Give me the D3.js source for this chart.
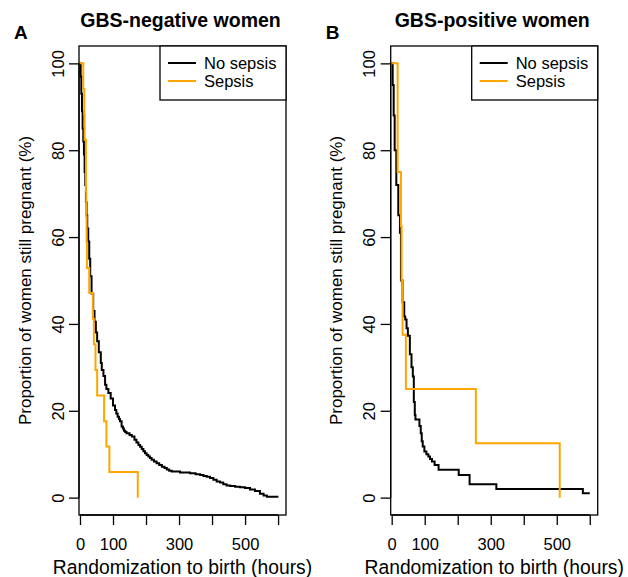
<!DOCTYPE html>
<html>
<head>
<meta charset="utf-8">
<script src="https://cdn.jsdelivr.net/npm/d3@7"></script>
<style>
  body { margin: 0; background: #fff; }
  text { font-family: "Liberation Sans", Arial, Helvetica, sans-serif; fill: #000; }
</style>
</head>
<body>
<script>
// hours from randomization, and % still pregnant at each step
var negNoSepsisHours = [0, 2, 4, 6, 8, 10, 12, 14, 16, 18, 20, 22, 25, 28, 31, 35, 40, 44, 48, 52, 57, 63, 66, 71, 76, 80, 86, 93, 100, 106, 110, 114, 118, 121, 126, 130, 133, 137, 141, 150, 157, 165, 171, 177, 182, 187, 192, 197, 202, 207, 212, 217, 224, 232, 240, 248, 256, 263, 270, 278, 303, 333, 350, 364, 374, 384, 394, 404, 414, 424, 434, 444, 455, 470, 485, 500, 515, 530, 545, 556, 566, 601];
var negNoSepsisPct = [100, 97, 93, 89, 85, 82, 79, 75, 72, 68, 65, 62, 59, 55, 51, 47, 43, 40.5, 38, 36, 33.5, 31, 29.4, 28, 26, 25, 24.1, 22.8, 21.2, 20.2, 19.4, 18.6, 18.1, 17.6, 16.4, 15.9, 15.4, 15.1, 14.8, 14.4, 14.1, 13.3, 12.7, 12.1, 11.7, 11.2, 10.7, 10.2, 9.8, 9.5, 9.1, 8.7, 8.3, 7.9, 7.5, 7.1, 6.8, 6.5, 6.2, 6.0, 5.8, 5.6, 5.4, 5.2, 5.0, 4.8, 4.5, 4.1, 3.7, 3.5, 3.1, 2.8, 2.7, 2.5, 2.4, 2.2, 1.9, 1.5, 0.9, 0.5, 0.2, 0.2];
var negSepsisHours = [0, 10, 13, 14, 18, 18, 19, 20, 21, 28, 39, 42, 47, 52, 73, 80, 89, 175];
var negSepsisPct = [100, 94.1, 88.2, 82.4, 76.5, 70.6, 64.7, 58.8, 52.9, 47.1, 41.2, 35.3, 29.4, 23.5, 17.6, 11.8, 5.9, 0];

var posNoSepsisHours = [0, 3, 6, 9, 14, 20, 25, 28, 33, 38, 41, 45, 49, 55, 60, 64, 67, 70, 72, 84, 88, 91, 94, 99, 105, 111, 116, 122, 130, 142, 203, 236, 317, 579, 600];
var posNoSepsisPct = [100, 95, 88, 80, 72, 65, 61, 50, 45, 41.7, 41, 39, 37.3, 33, 30, 27.9, 22, 19, 18, 16.5, 14.8, 13, 11.8, 10.6, 10, 9.5, 8.9, 8.3, 7.5, 6.4, 5.2, 3.1, 2.0, 1.0, 1.0];
var posSepsisHours = [0, 18, 18, 28, 30, 33, 43, 255, 509];
var posSepsisPct = [100, 87.5, 75, 62.5, 50, 37.5, 25, 12.5, 0];

var panelLetters = ["A", "B"];
var panelTitles = ["GBS-negative women", "GBS-positive women"];
var seriesNames = ["No sepsis", "Sepsis"];
var xTicks = [0, 100, 200, 300, 400, 500, 600];
var xTickLabels = ["0", "100", "", "300", "", "500", ""];
var yTicks = [0, 20, 40, 60, 80, 100];
var xLabel = "Randomization to birth (hours)";
var yLabel = "Proportion of women still pregnant (%)";

var colors = ["#000000", "#FFA500"];

var svg = d3
  .select("body")
  .append("svg")
  .attr("width", 628)
  .attr("height", 577);

// plot box for each panel
var plotTop = 46,
  plotBottom = 515;
var lefts = [79, 390.7];
var boxWidth = 207;

var y = d3.scaleLinear().domain([-4, 104]).range([plotBottom, plotTop]);

function drawPanel(i, series) {
  var left = lefts[i];
  var right = left + boxWidth;
  var x = d3.scaleLinear().domain([-3, 624]).range([left, right]);
  var g = svg.append("g");

  // step curves
  var line = d3
    .line()
    .x((d) => x(d[0]))
    .y((d) => y(d[1]))
    .curve(d3.curveStepAfter);

  series.forEach(function (s, k) {
    var pts = s.hours.map((h, j) => [h, s.pct[j]]);
    g.append("path")
      .datum(pts)
      .attr("fill", "none")
      .attr("stroke", colors[k])
      .attr("stroke-width", 2)
      .attr("d", line);
  });

  // box
  g.append("rect")
    .attr("x", left)
    .attr("y", plotTop)
    .attr("width", boxWidth)
    .attr("height", plotBottom - plotTop)
    .attr("fill", "none")
    .attr("stroke", "#000")
    .attr("stroke-width", 1.3);

  // x axis
  var xAxis = g
    .append("g")
    .attr("transform", "translate(0," + plotBottom + ")")
    .call(
      d3
        .axisBottom(x)
        .tickValues(xTicks)
        .tickSize(10)
        .tickFormat((d, j) => xTickLabels[j])
    );
  xAxis.select(".domain").attr("d", "M" + x(0) + ",0H" + x(600));
  xAxis.selectAll("line,path").attr("stroke-width", 1.3);
  xAxis
    .selectAll("text")
    .attr("y", 0)
    .attr("dy", null)
    .attr("transform", "translate(0,34.5)")
    .style("font-size", "16.5px")
    .attr("font-family", null);

  // y axis
  var yAxis = g
    .append("g")
    .attr("transform", "translate(" + left + ",0)")
    .call(d3.axisLeft(y).tickValues(yTicks).tickSize(10));
  yAxis.select(".domain").attr("d", "M0," + y(0) + "V" + y(100));
  yAxis.selectAll("line,path").attr("stroke-width", 1.3);
  yAxis
    .selectAll("text")
    .attr("x", 0)
    .attr("dy", null)
    .attr("text-anchor", "middle")
    .attr("transform", "translate(-15.5,0) rotate(-90)")
    .style("font-size", "16.5px")
    .attr("font-family", null);

  // axis titles
  g.append("text")
    .attr("x", (left + right) / 2)
    .attr("y", 574)
    .attr("text-anchor", "middle")
    .style("font-size", "19.3px")
    .text(xLabel);

  g.append("text")
    .attr("transform", "translate(" + (left - 48.5) + "," + (plotTop + plotBottom) / 2 + ") rotate(-90)")
    .attr("text-anchor", "middle")
    .style("font-size", "17px")
    .text(yLabel);

  // title and panel letter
  g.append("text")
    .attr("x", (left + right) / 2 - 2)
    .attr("y", 26.5)
    .attr("text-anchor", "middle")
    .style("font-size", "19.5px")
    .style("font-weight", "bold")
    .text(panelTitles[i]);

  g.append("text")
    .attr("x", left - 65)
    .attr("y", 38.5)
    .style("font-size", "19px")
    .style("font-weight", "bold")
    .text(panelLetters[i]);

  // legend in the top right corner
  var lg = g.append("g").attr("transform", "translate(" + (right - 126) + "," + plotTop + ")");
  lg.append("rect")
    .attr("width", 126)
    .attr("height", 54)
    .attr("fill", "#fff")
    .attr("stroke", "#000")
    .attr("stroke-width", 1.3);
  seriesNames.forEach(function (name, k) {
    lg.append("line")
      .attr("x1", 8)
      .attr("x2", 36)
      .attr("y1", 17 + k * 18)
      .attr("y2", 17 + k * 18)
      .attr("stroke", colors[k])
      .attr("stroke-width", 2);
    lg.append("text")
      .attr("x", 44)
      .attr("y", 23 + k * 18)
      .style("font-size", "16.5px")
      .text(name);
  });
}

drawPanel(0, [
  { hours: negNoSepsisHours, pct: negNoSepsisPct },
  { hours: negSepsisHours, pct: negSepsisPct },
]);
drawPanel(1, [
  { hours: posNoSepsisHours, pct: posNoSepsisPct },
  { hours: posSepsisHours, pct: posSepsisPct },
]);
</script>
</body>
</html>
